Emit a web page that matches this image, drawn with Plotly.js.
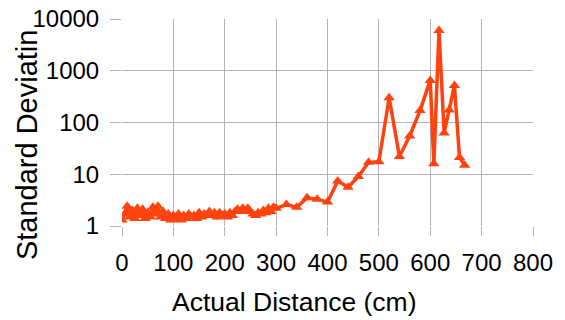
<!DOCTYPE html>
<html>
<head>
<meta charset="utf-8">
<script src="https://cdn.plot.ly/plotly-3.0.1.min.js"></script>
<style>html,body{margin:0;padding:0;background:#fff;}#chart{width:565px;height:320px;}</style>
</head>
<body>
<div id="chart"></div>
<script>
const distance = [0,5,10,15,20,25,30,35,40,45,50,55,60,65,70,75,80,85,90,95,
  100,105,110,115,120,125,130,135,140,145,150,155,160,165,170,175,180,185,190,195,
  200,205,210,215,220,225,230,235,240,245,250,255,260,265,270,275,280,285,290,295,
  300,320,340,360,380,400,420,440,460,480,500,520,540,560,580,600,607,617,627,637,647,657,667];
const stdDev = [1.3,1.7,2.4,1.5,2.0,1.4,2.2,1.6,2.1,1.4,1.8,1.5,2.3,1.7,2.4,1.5,1.9,1.4,1.7,1.3,
  1.6,1.4,1.7,1.3,1.6,1.4,1.7,1.5,1.6,1.4,1.8,1.5,1.7,1.6,1.9,1.6,1.8,1.5,1.8,1.6,
  1.7,1.5,1.8,1.6,1.9,2.1,1.9,2.2,2.0,2.2,1.9,1.7,1.6,1.8,1.7,2.0,1.8,2.2,1.9,2.3,
  2.2,2.6,2.3,3.5,3.3,2.9,7.4,5.6,9,17,17.5,300,22,55,170,650,16,6000,63,175,520,21,15];
const xTicks = [0,100,200,300,400,500,600,700,800];
const yTicks = [1,10,100,1000,10000];
const xTitle = 'Actual Distance (cm)';
const yTitle = 'Standard Deviatin';

const trace = {
  x: distance, y: stdDev, type: 'scatter', mode: 'lines+markers',
  line: {color: '#ff420e', width: 3.5},
  marker: {symbol: 'triangle-up', size: 10, color: '#ff420e'},
  hoverinfo: 'none'
};
const fam = 'Liberation Sans, Arial, sans-serif';
const tickFont = {family: fam, size: 24, color: '#000'};
const layout = {
  width: 565, height: 320,
  margin: {l: 122, r: 32, t: 19, b: 94},
  paper_bgcolor: '#fff', plot_bgcolor: '#fff',
  showlegend: false,
  font: tickFont,
  xaxis: {
    range: [0, 800], tickvals: xTicks, ticktext: xTicks.map(String),
    showgrid: true, gridcolor: '#b3b3b3', gridwidth: 1, zeroline: false,
    ticks: 'outside', ticklen: 9, tickcolor: '#b3b3b3',
    showline: false, tickfont: tickFont, ticklabelstandoff: 6
  },
  yaxis: {
    type: 'log', range: [0, 4], tickvals: yTicks, ticktext: yTicks.map(String),
    showgrid: true, gridcolor: '#b3b3b3', gridwidth: 1, zeroline: false,
    ticks: 'outside', ticklen: 11, tickcolor: '#b3b3b3',
    showline: false, tickfont: tickFont, ticklabelstandoff: 6
  },
  annotations: [
    {text: xTitle, xref: 'paper', yref: 'paper', x: 0.418, y: -0.367,
     xanchor: 'center', yanchor: 'middle', showarrow: false,
     font: {family: fam, size: 26.5, color: '#000'}},
    {text: yTitle, xref: 'paper', yref: 'paper', x: -0.231, y: 0.391,
     xanchor: 'center', yanchor: 'middle', showarrow: false, textangle: -90,
     font: {family: fam, size: 29, color: '#000'}}
  ]
};
Plotly.newPlot('chart', [trace], layout, {displayModeBar: false, staticPlot: true});
</script>
</body>
</html>
